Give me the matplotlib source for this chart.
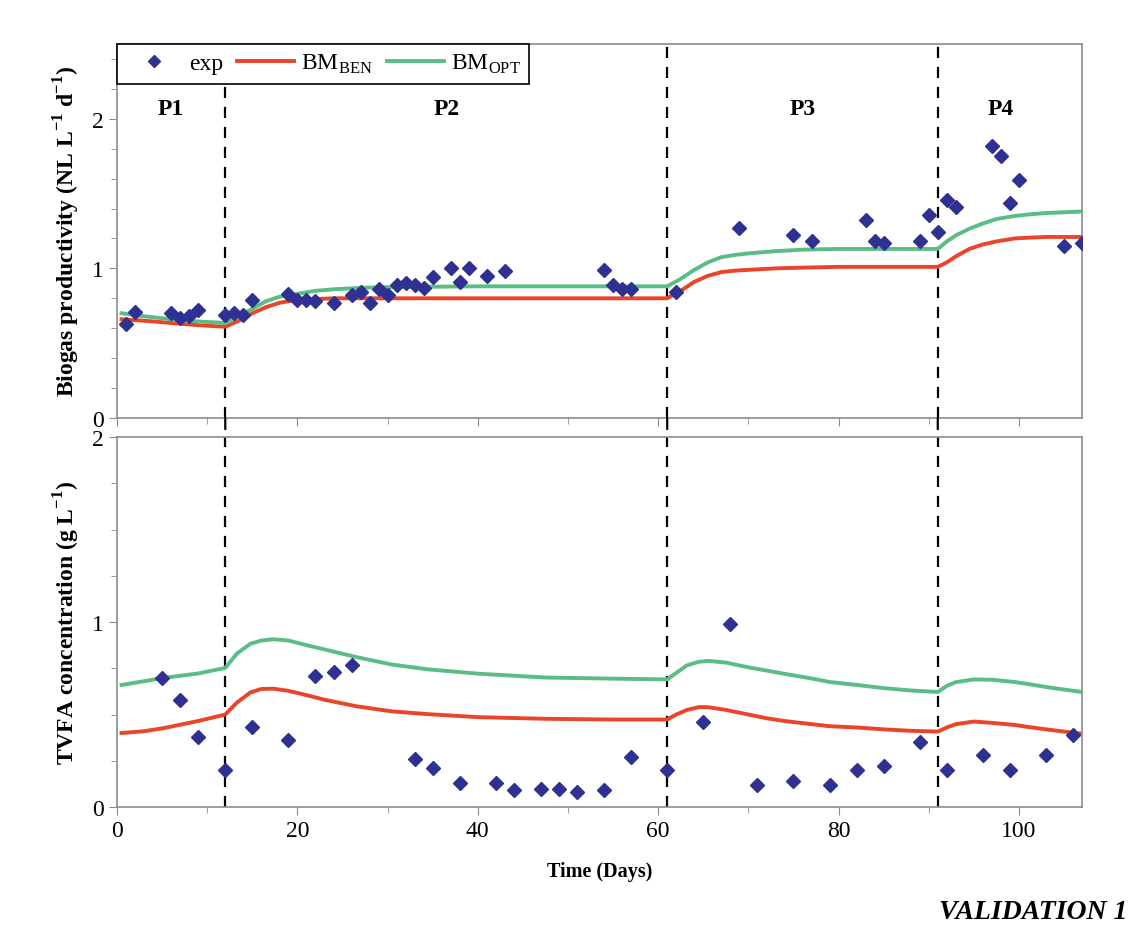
import matplotlib
matplotlib.use("Agg")
import matplotlib.pyplot as plt
from matplotlib.patches import ConnectionPatch
from matplotlib.ticker import MultipleLocator

plt.rcParams['font.family'] = ['Liberation Serif', 'DejaVu Serif']
plt.rcParams['mathtext.fontset'] = 'custom'
plt.rcParams['mathtext.rm'] = 'Liberation Serif'
plt.rcParams['mathtext.bf'] = 'Liberation Serif:bold'

# experimental biogas productivity (NL/L/d)
bio_day = [1, 2, 6, 7, 8, 9, 12, 13, 14, 15, 19, 20, 21, 22, 24, 26, 27, 28, 29, 30,
           31, 32, 33, 34, 35, 37, 38, 39, 41, 43, 54, 55, 56, 57, 62, 69, 75, 77,
           83, 84, 85, 89, 90, 91, 92, 93, 97, 98, 99, 100, 105, 107]
bio_exp = [0.63, 0.71, 0.70, 0.67, 0.68, 0.72, 0.69, 0.70, 0.69, 0.79, 0.83, 0.79, 0.79, 0.78,
           0.77, 0.82, 0.84, 0.77, 0.86, 0.82, 0.89, 0.90, 0.89, 0.87, 0.94, 1.00, 0.91,
           1.00, 0.95, 0.98, 0.99, 0.89, 0.86, 0.86, 0.84, 1.27, 1.22, 1.18, 1.32, 1.18,
           1.17, 1.18, 1.36, 1.24, 1.46, 1.41, 1.82, 1.75, 1.44, 1.59, 1.15, 1.17]

# model curves, biogas
bio_t = [0.5, 3, 6, 9, 12, 13.5, 15, 16.5, 18, 20, 22, 24, 27, 30, 40, 50, 61,
         62.5, 64, 65.5, 67, 68.5, 70, 73, 76, 80, 85, 91,
         92, 93, 94.5, 96, 97.5, 99.5, 101, 103, 105, 107]
bio_ben = [0.66, 0.65, 0.635, 0.62, 0.61, 0.65, 0.70, 0.74, 0.77, 0.79, 0.795, 0.80, 0.80,
           0.80, 0.80, 0.80, 0.80,
           0.85, 0.91, 0.95, 0.975, 0.985, 0.99, 1.00, 1.005, 1.01, 1.01, 1.01,
           1.04, 1.08, 1.13, 1.16, 1.18, 1.20, 1.205, 1.21, 1.21, 1.21]
bio_opt = [0.70, 0.68, 0.66, 0.645, 0.635, 0.68, 0.73, 0.78, 0.81, 0.83, 0.85, 0.86, 0.87,
           0.875, 0.88, 0.88, 0.88,
           0.93, 0.99, 1.04, 1.075, 1.09, 1.10, 1.115, 1.125, 1.13, 1.13, 1.13,
           1.18, 1.22, 1.265, 1.30, 1.33, 1.35, 1.36, 1.37, 1.375, 1.38]

# experimental TVFA (g/L)
vfa_day = [5, 7, 9, 12, 15, 19, 22, 24, 26, 33, 35, 38, 42, 44, 47, 49, 51, 54, 57, 61,
           65, 68, 71, 75, 79, 82, 85, 89, 92, 96, 99, 103, 106]
vfa_exp = [0.70, 0.58, 0.38, 0.20, 0.43, 0.36, 0.71, 0.73, 0.77, 0.26, 0.21, 0.13, 0.13,
           0.09, 0.10, 0.10, 0.08, 0.09, 0.27, 0.20, 0.46, 0.99, 0.12, 0.14, 0.12, 0.20,
           0.22, 0.35, 0.20, 0.28, 0.20, 0.28, 0.39]

# model curves, TVFA
vfa_t = [0.5, 3, 5, 9, 12, 13.3, 14.8, 16, 17.3, 19, 21, 23, 26.5, 30.5, 34.5, 40, 47.5,
         55, 61, 62, 63.2, 64.5, 65.5, 67.5, 70, 72, 74, 77, 79, 82, 85, 88, 91,
         92, 93, 95, 97, 99.5, 101, 103, 105, 107]
vfa_ben = [0.40, 0.41, 0.425, 0.465, 0.50, 0.565, 0.62, 0.638, 0.64, 0.628, 0.605, 0.58,
           0.545, 0.517, 0.502, 0.486, 0.477, 0.473, 0.473, 0.50, 0.525, 0.54, 0.54,
           0.525, 0.50, 0.48, 0.465, 0.448, 0.437, 0.43, 0.42, 0.412, 0.408,
           0.43, 0.448, 0.462, 0.455, 0.444, 0.433, 0.42, 0.408, 0.396]
vfa_opt = [0.66, 0.68, 0.697, 0.722, 0.752, 0.83, 0.883, 0.90, 0.907, 0.90, 0.875, 0.852,
           0.811, 0.77, 0.744, 0.721, 0.70, 0.694, 0.69, 0.725, 0.766, 0.785, 0.79,
           0.781, 0.755, 0.738, 0.72, 0.695, 0.676, 0.66, 0.643, 0.63, 0.622,
           0.655, 0.675, 0.69, 0.688, 0.676, 0.665, 0.649, 0.635, 0.622]

phase_ends = [12, 61, 91]
phase_names = ["P1", "P2", "P3", "P4"]
phase_mid = [6, 36.5, 76, 98]

c_exp = '#2E3192'
c_ben = '#EA4528'
c_opt = '#5BBD85'
c_spine = '#8C8C8C'

fig = plt.figure(figsize=(11.32, 9.29), dpi=100)
ax1 = fig.add_axes([0.1034, 0.549, 0.8525, 0.4026])
ax2 = fig.add_axes([0.1034, 0.1302, 0.8525, 0.3983])

for ax in (ax1, ax2):
    ax.set_xlim(0, 107)
    ax.xaxis.set_major_locator(MultipleLocator(20))
    ax.xaxis.set_minor_locator(MultipleLocator(10))
    for s in ax.spines.values():
        s.set_color(c_spine)
        s.set_linewidth(1.2)
    ax.tick_params(which='both', direction='out', color=c_spine, labelsize=17)
    ax.tick_params(which='major', length=6)
    ax.tick_params(which='minor', length=4)
    for b in phase_ends:
        ax.axvline(b, color='black', ls=(0, (5, 4)), lw=1.6, zorder=1)

# top panel
ax1.plot(bio_t, bio_ben, color=c_ben, lw=2.8, label='BM$_{\\mathregular{BEN}}$', zorder=2)
ax1.plot(bio_t, bio_opt, color=c_opt, lw=2.8, label='BM$_{\\mathregular{OPT}}$', zorder=2)
ax1.plot(bio_day, bio_exp, 'D', color=c_exp, ms=7.5, ls='none', label='exp', zorder=3)
ax1.set_ylim(0, 2.5)
ax1.yaxis.set_major_locator(MultipleLocator(1))
ax1.yaxis.set_minor_locator(MultipleLocator(0.2))
ax1.tick_params(axis='x', labelbottom=False)
ax1.set_ylabel('Biogas productivity (NL L$^{\\mathbf{-1}}$ d$^{\\mathbf{-1}}$)',
               fontsize=17, fontweight='bold', labelpad=7)
for name, xm in zip(phase_names, phase_mid):
    ax1.text(xm, 2.07, name, ha='center', va='center', fontsize=17, fontweight='bold')

h, l = ax1.get_legend_handles_labels()
leg = ax1.legend([h[2], h[0], h[1]], [l[2], l[0], l[1]], loc='upper left',
                 bbox_to_anchor=(0, 1), borderaxespad=0, ncol=3, fontsize=17,
                 frameon=True, fancybox=False, edgecolor='black', framealpha=1,
                 handlelength=2.4, columnspacing=0.6, handletextpad=0.3,
                 borderpad=0.35, markerscale=0.8)
leg.get_frame().set_linewidth(1.2)
leg.set_zorder(5)

# bottom panel
ax2.plot(vfa_t, vfa_ben, color=c_ben, lw=2.8, zorder=2)
ax2.plot(vfa_t, vfa_opt, color=c_opt, lw=2.8, zorder=2)
ax2.plot(vfa_day, vfa_exp, 'D', color=c_exp, ms=7.5, ls='none', zorder=3)
ax2.set_ylim(0, 2)
ax2.yaxis.set_major_locator(MultipleLocator(1))
ax2.yaxis.set_minor_locator(MultipleLocator(0.25))
ax2.set_ylabel('TVFA concentration (g L$^{\\mathbf{-1}}$)',
               fontsize=17, fontweight='bold', labelpad=7)
ax2.set_xlabel('Time (Days)', fontsize=14.5, fontweight='bold', labelpad=14)

# dashed separators running through the gap between panels
for b in phase_ends:
    con = ConnectionPatch(xyA=(b, 0), coordsA=ax1.transData, xyB=(b, 2),
                          coordsB=ax2.transData, color='black', ls=(0, (5, 4)), lw=1.6)
    fig.add_artist(con)

fig.text(0.996, 0.018, 'VALIDATION 1', ha='right', va='center', fontsize=20,
         fontweight='bold', fontstyle='italic')

fig.savefig('out.png', dpi=100)
